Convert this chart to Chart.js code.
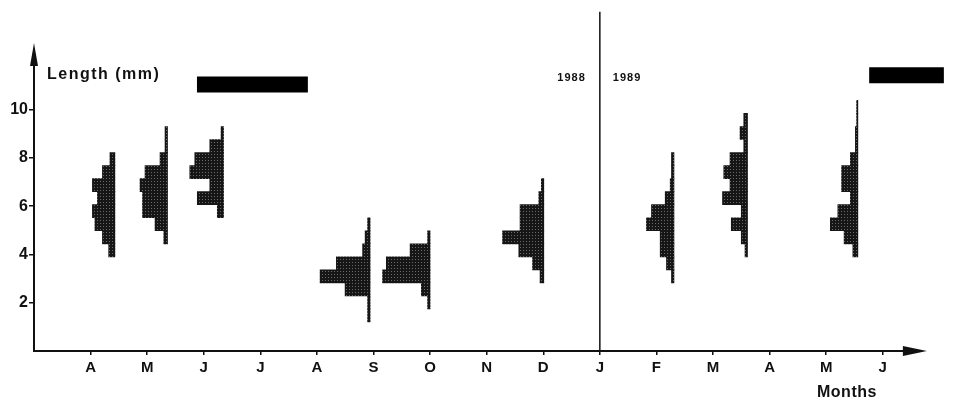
<!DOCTYPE html>
<html>
<head>
<meta charset="utf-8">
<script src="https://cdn.jsdelivr.net/npm/chart.js@4.4.1/dist/chart.umd.min.js"></script>
<style>
  html, body { margin: 0; padding: 0; background: #fff; }
  canvas { display: block; }
</style>
</head>
<body>
<canvas id="lengthChart" width="953" height="405"></canvas>
<script>
// Length classes (class mid-points, mm) shared by every sample
const lengthClass = [0.93, 1.47, 2.01, 2.55, 3.09, 3.63, 4.17, 4.71, 5.25, 5.79, 6.33, 6.87, 7.41, 7.95, 8.49, 9.03, 9.57, 10.11];

// Sampling dates in months after March 1988 (1 = April 1988 ... 15 = June 1989)
const sampleMonth = [1.43, 2.36, 3.35, 5.94, 7.0, 9.01, 11.31, 12.61, 14.56];

// Length-frequency (%) per class, one array per sample
const freqApr88 = [0, 0, 0, 0, 0, 0, 5, 10, 16, 18, 14, 18, 10, 4, 0, 0, 0, 0];
const freqMay88 = [0, 0, 0, 0, 0, 0, 0, 3, 10, 20, 20, 22, 18, 6, 2, 2, 0, 0];
const freqJun88 = [0, 0, 0, 0, 0, 0, 0, 0, 0, 5, 21, 11, 27, 23, 11, 2, 0, 0];
const freqSep88 = [0, 2, 2, 20, 40, 27, 6, 4, 2, 0, 0, 0, 0, 0, 0, 0, 0, 0];
const freqOct88 = [0, 0, 2, 7, 38, 35, 16, 2, 0, 0, 0, 0, 0, 0, 0, 0, 0, 0];
const freqDec88 = [0, 0, 0, 0, 3, 9, 20, 33, 19, 19, 4, 2, 0, 0, 0, 0, 0, 0];
const freqFeb89 = [0, 0, 0, 0, 2, 6, 11, 11, 22, 18, 7, 3, 2, 2, 0, 0, 0, 0];
const freqMar89 = [0, 0, 0, 0, 0, 0, 2, 5, 13, 5, 20, 14, 19, 14, 3, 6, 3, 0];
const freqMay89 = [0, 0, 0, 0, 0, 0, 4, 11, 22, 16, 6, 13, 13, 6, 2, 2, 1, 1];
const sampleFreqs = [freqApr88, freqMay88, freqJun88, freqSep88, freqOct88, freqDec88, freqFeb89, freqMar89, freqMay89];

// Black bars (periods, months) and their level on the length axis
const periodStart = [2.88, 14.76];
const periodEnd = [4.84, 16.08];
const periodLevel = [11.04, 11.42];

// Axis ticks
const monthTicks = [1, 2, 3, 4, 5, 6, 7, 8, 9, 10, 11, 12, 13, 14, 15];
const monthLabels = ['A', 'M', 'J', 'J', 'A', 'S', 'O', 'N', 'D', 'J', 'F', 'M', 'A', 'M', 'J'];
const lengthTicks = [2, 4, 6, 8, 10];
const yearBoundary = 10; // January 1989

// Style constants
const monthsPerPercent = 0.0221;
const FONT = "'Liberation Sans', Arial, sans-serif";
const INK = '#111';

const canvas = document.getElementById('lengthChart');
const ctx = canvas.getContext('2d');

// halftone fill like the printed histograms
const tile = document.createElement('canvas');
tile.width = 3; tile.height = 3;
const tctx = tile.getContext('2d');
tctx.fillStyle = '#161616';
tctx.fillRect(0, 0, 3, 3);
tctx.fillStyle = '#6a6a6a';
tctx.fillRect(1, 1, 1, 1);
const halftone = ctx.createPattern(tile, 'repeat');

const histDatasets = sampleFreqs.map((freq, i) => ({
    type: 'bar',
    data: freq.map((f, k) => f > 0 ? { y: lengthClass[k], x: [sampleMonth[i] - f * monthsPerPercent, sampleMonth[i]] } : null)
        .filter(Boolean),
    backgroundColor: halftone,
    borderWidth: 0,
    grouped: false,
    categoryPercentage: 1,
    barPercentage: 1
}));

const periodDatasets = periodStart.map((s, i) => ({
    type: 'line',
    indexAxis: 'x',
    data: [{ x: s, y: periodLevel[i] }, { x: periodEnd[i], y: periodLevel[i] }],
    borderColor: '#000',
    borderWidth: 16,
    borderCapStyle: 'butt',
    pointRadius: 0,
    fill: false
}));

// axes with arrow heads, year divider and free text
const axisDecor = {
    id: 'axisDecor',
    afterDatasetsDraw(chart) {
        const { ctx, scales: { x, y } } = chart;
        const x0 = x.getPixelForValue(0);
        const y0 = y.getPixelForValue(0);
        const xTip = x.getPixelForValue(15.78);
        const yTip = y.getPixelForValue(12.76);
        ctx.save();
        ctx.strokeStyle = INK;
        ctx.fillStyle = INK;
        ctx.lineWidth = 2;
        ctx.beginPath();
        ctx.moveTo(x0, y0); ctx.lineTo(xTip - 20, y0);
        ctx.moveTo(x0, y0 + 1); ctx.lineTo(x0, yTip + 20);
        ctx.stroke();
        ctx.beginPath();
        ctx.moveTo(xTip, y0); ctx.lineTo(xTip - 24, y0 - 5); ctx.lineTo(xTip - 24, y0 + 5);
        ctx.closePath(); ctx.fill();
        ctx.beginPath();
        ctx.moveTo(x0, yTip); ctx.lineTo(x0 - 4, yTip + 23); ctx.lineTo(x0 + 4, yTip + 23);
        ctx.closePath(); ctx.fill();

        // 1988 / 1989 divider
        const xd = x.getPixelForValue(yearBoundary);
        ctx.lineWidth = 1.5;
        ctx.beginPath();
        ctx.moveTo(xd, y0);
        ctx.lineTo(xd, y.getPixelForValue(14.05));
        ctx.stroke();

        ctx.textBaseline = 'middle';
        ctx.font = `bold 16px ${FONT}`;
        ctx.letterSpacing = '1.5px';
        ctx.textAlign = 'left';
        ctx.fillText('Length (mm)', 47, 75);
        ctx.letterSpacing = '0.5px';
        ctx.fillText('Months', 817, 393);
        ctx.font = `bold 11px ${FONT}`;
        ctx.letterSpacing = '1px';
        ctx.textAlign = 'right';
        ctx.fillText('1988', xd - 14, 78);
        ctx.textAlign = 'left';
        ctx.fillText('1989', xd + 13, 78);
        ctx.restore();
    }
};

new Chart(ctx, {
    type: 'bar',
    data: { datasets: [...histDatasets, ...periodDatasets] },
    options: {
        indexAxis: 'y',
        responsive: false,
        animation: false,
        devicePixelRatio: 1,
        layout: { padding: { left: 0, right: 8, top: 4, bottom: 0 } },
        plugins: { legend: { display: false }, tooltip: { enabled: false } },
        scales: {
            x: {
                type: 'linear',
                min: 0,
                max: 16.1,
                afterBuildTicks: s => { s.ticks = monthTicks.map(v => ({ value: v })); },
                afterFit: s => { s.height = 54; },
                border: { display: false },
                grid: { display: true, drawOnChartArea: false, drawTicks: true, tickLength: 4, color: INK, lineWidth: 1.5 },
                ticks: {
                    autoSkip: false,
                    maxRotation: 0,
                    padding: 4,
                    color: INK,
                    font: { family: FONT, size: 15, weight: 'bold' },
                    callback: (v, i) => monthLabels[i]
                }
            },
            y: {
                type: 'linear',
                min: 0,
                max: 14.1,
                offset: false,
                afterBuildTicks: s => { s.ticks = lengthTicks.map(v => ({ value: v })); },
                afterFit: s => { s.width = 34; },
                border: { display: false },
                grid: { display: true, offset: false, drawOnChartArea: false, drawTicks: true, tickLength: 5, color: INK, lineWidth: 1.5 },
                ticks: {
                    padding: 1,
                    color: INK,
                    font: { family: FONT, size: 16, weight: 'bold' }
                }
            }
        }
    },
    plugins: [axisDecor]
});
</script>
</body>
</html>
